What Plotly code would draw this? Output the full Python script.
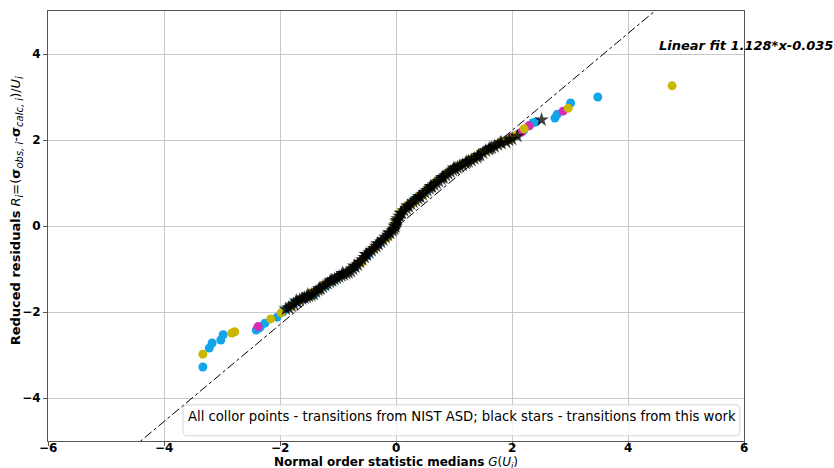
import plotly.graph_objects as go

# ---- data ----
blue_x = [-3.33, -3.22, -3.17, -3.02, -2.98, -2.41, -2.37, -2.34, -2.26, -2.05, -1.95, -1.88, -1.80, -1.72,
          -1.60, -1.55, -1.42, -1.38, -1.20, -1.05, -1.00, -0.90, -0.80, -0.70, -0.50, -0.45, -0.30, -0.25,
          -0.12, 0.05, 0.20, 0.30, 0.38, 0.55, 0.65, 0.72, 0.78, 0.90, 1.00, 1.10, 1.20, 1.30, 1.38, 1.48,
          1.55, 1.65, 1.72, 1.82, 1.90, 1.98, 2.05, 2.10, 2.20, 2.30, 2.36, 2.41, 2.74, 2.78, 3.01, 3.48]
blue_y = [-3.28, -2.84, -2.72, -2.65, -2.53, -2.42, -2.38, -2.35, -2.26, -2.12, -2.00, -1.93, -1.83, -1.78,
          -1.70, -1.66, -1.60, -1.55, -1.38, -1.24, -1.20, -1.12, -1.03, -0.95, -0.68, -0.60, -0.42, -0.35,
          -0.20, 0.22, 0.45, 0.60, 0.65, 0.86, 0.98, 1.05, 1.12, 1.24, 1.34, 1.40, 1.48, 1.54, 1.61, 1.70,
          1.76, 1.83, 1.88, 1.94, 2.00, 2.04, 2.08, 2.13, 2.22, 2.33, 2.40, 2.42, 2.51, 2.60, 2.86, 3.00]

yellow_x = [-3.33, -2.83, -2.78, -2.16, -1.98, -1.80, -1.65, -1.50, -1.45, -1.35, -1.25, -1.15, -0.98, -0.85,
            -0.75, -0.66, -0.60, -0.55, -0.40, -0.35, -0.22, -0.15, -0.06, -0.02, 0.02, 0.07, 0.10, 0.18,
            0.25, 0.32, 0.40, 0.45, 0.55, 0.62, 0.70, 0.80, 0.88, 0.95, 1.05, 1.12, 1.18, 1.28, 1.35, 1.45,
            1.52, 1.62, 1.70, 1.78, 1.88, 1.95, 2.05, 2.21, 2.97, 4.76]
yellow_y = [-2.98, -2.49, -2.46, -2.16, -2.02, -1.86, -1.72, -1.64, -1.55, -1.50, -1.38, -1.30, -1.18, -1.10,
            -0.98, -0.88, -0.85, -0.74, -0.55, -0.50, -0.32, -0.27, -0.10, 0.05, 0.15, 0.30, 0.30, 0.46,
            0.50, 0.58, 0.70, 0.72, 0.88, 0.92, 1.04, 1.12, 1.22, 1.30, 1.36, 1.42, 1.46, 1.55, 1.57, 1.68,
            1.73, 1.80, 1.86, 1.93, 1.98, 2.01, 2.10, 2.26, 2.74, 3.26]

magenta_x = [-2.38, -1.62, -0.82, 0.15, 1.42, 2.00, 2.16, 2.29, 2.88]
magenta_y = [-2.34, -1.70, -1.06, 0.42, 1.62, 2.06, 2.18, 2.33, 2.67]

cyan_x = [-1.12, -0.95, -0.18, 0.50, 0.85, 1.60]
cyan_y = [-1.28, -1.14, -0.27, 0.80, 1.20, 1.79]

star_x = [-1.90, -1.85, -1.80, -1.76, -1.72, -1.70, -1.66, -1.62, -1.58, -1.54, -1.52, -1.50, -1.46, -1.42,
          -1.38, -1.34, -1.32, -1.30, -1.26, -1.22, -1.18, -1.14, -1.12, -1.10, -1.06, -1.02, -0.98, -0.94,
          -0.92, -0.90, -0.86, -0.82, -0.78, -0.74, -0.72, -0.70, -0.66, -0.62, -0.58, -0.54, -0.52, -0.50,
          -0.46, -0.42, -0.38, -0.34, -0.32, -0.30, -0.26, -0.22, -0.18, -0.14, -0.12, -0.10, -0.06, -0.03,
          -0.02, -0.01, 0.00, 0.01, 0.02, 0.03, 0.06, 0.08, 0.10, 0.14, 0.18, 0.20, 0.22, 0.26, 0.30, 0.34,
          0.38, 0.40, 0.42, 0.46, 0.50, 0.54, 0.58, 0.60, 0.62, 0.66, 0.70, 0.74, 0.78, 0.80, 0.82, 0.86,
          0.90, 0.94, 0.98, 1.00, 1.02, 1.06, 1.10, 1.15, 1.20, 1.22, 1.25, 1.30, 1.35, 1.40, 1.42, 1.45,
          1.50, 1.55, 1.60, 1.62, 1.65, 1.70, 1.76, 1.80, 1.82, 1.90, 1.95, 2.00, 2.09, 2.51]
star_y = [-1.93, -1.90, -1.86, -1.82, -1.74, -1.77, -1.72, -1.69, -1.67, -1.65, -1.60, -1.63, -1.61, -1.58,
          -1.53, -1.49, -1.45, -1.46, -1.42, -1.38, -1.34, -1.30, -1.26, -1.27, -1.24, -1.21, -1.18, -1.15,
          -1.10, -1.13, -1.10, -1.08, -1.05, -1.00, -0.93, -0.95, -0.90, -0.84, -0.78, -0.73, -0.66, -0.67,
          -0.62, -0.57, -0.52, -0.47, -0.41, -0.42, -0.37, -0.32, -0.26, -0.21, -0.16, -0.16, -0.11, -0.07,
          0.00, -0.02, 0.04, 0.10, 0.13, 0.17, 0.23, 0.30, 0.30, 0.36, 0.41, 0.47, 0.46, 0.51, 0.56, 0.60,
          0.64, 0.69, 0.68, 0.73, 0.78, 0.83, 0.87, 0.92, 0.91, 0.96, 1.00, 1.04, 1.09, 1.13, 1.13, 1.18,
          1.22, 1.26, 1.30, 1.35, 1.33, 1.36, 1.39, 1.42, 1.46, 1.49, 1.50, 1.53, 1.57, 1.60, 1.64, 1.65,
          1.70, 1.75, 1.78, 1.81, 1.82, 1.85, 1.89, 1.94, 1.93, 1.95, 2.00, 2.02, 2.09, 2.47]

fit_slope = 1.128
fit_intercept = -0.035
fit_x = [-6, 6]
fit_y = [fit_slope * v + fit_intercept for v in fit_x]

x_ticks = [-6, -4, -2, 0, 2, 4, 6]
y_ticks = [-4, -2, 0, 2, 4]

FONT = "DejaVu Sans"
TICKFONT = dict(family=FONT, size=12, color="black", weight="bold")

def tick_text(v):
    return ("−" if v < 0 else "") + str(abs(v))

fig = go.Figure()

def dots(x, y, color):
    fig.add_trace(go.Scatter(x=x, y=y, mode="markers",
                             marker=dict(size=9, color=color, line=dict(width=0)),
                             showlegend=False, hoverinfo="skip"))

dots(blue_x, blue_y, "#12a5ea")
dots(magenta_x, magenta_y, "#d92ab8")
dots(cyan_x, cyan_y, "#10bcc4")
dots(yellow_x, yellow_y, "#c9b700")

fig.add_trace(go.Scatter(x=star_x, y=star_y, mode="markers",
                         marker=dict(symbol="star", size=11, color="rgba(0,0,0,0.75)", line=dict(width=0)),
                         showlegend=False, hoverinfo="skip"))

fig.add_trace(go.Scatter(x=fit_x, y=fit_y, mode="lines",
                         line=dict(color="black", width=1, dash="dashdot"),
                         showlegend=False, hoverinfo="skip"))

fig.add_annotation(x=4.5, y=4.19, xref="x", yref="y", xanchor="left", yanchor="middle",
                   text="<b><i>Linear fit %.3f*x%.3f</i></b>" % (fit_slope, fit_intercept),
                   showarrow=False, font=dict(family=FONT, size=13, color="black"))

# legend-like box
x0, x1, y0, y1, r = 0.194, 0.994, 0.012, 0.084, 0.006
ry = r * 696 / 430
path = (f"M {x0+r},{y0} L {x1-r},{y0} Q {x1},{y0} {x1},{y0+ry} L {x1},{y1-ry} Q {x1},{y1} {x1-r},{y1} "
        f"L {x0+r},{y1} Q {x0},{y1} {x0},{y1-ry} L {x0},{y0+ry} Q {x0},{y0} {x0+r},{y0} Z")
fig.add_shape(type="path", path=path, xref="paper", yref="paper",
              line=dict(color="#d6d6d6", width=1), fillcolor="rgba(255,255,255,0.8)", layer="above")
fig.add_annotation(x=0.198, y=0.058, xref="paper", yref="paper", xanchor="left", yanchor="middle",
                   text="All collor points - transitions from NIST ASD; black stars - transitions from this work",
                   showarrow=False, font=dict(family=FONT, size=13.2, color="black"))

# x tick labels placed just under the ticks
for v in x_ticks:
    fig.add_annotation(x=v, y=0, xref="x", yref="paper", xanchor="center", yanchor="top",
                       yshift=2, text=tick_text(v), showarrow=False, font=TICKFONT)

# axis titles as annotations
fig.add_annotation(x=0.5, y=-0.051, xref="paper", yref="paper", xanchor="center", yanchor="middle",
                   text="<b>Normal order statistic medians</b> <i>G</i>(<i>U<sub>i</sub></i>)",
                   showarrow=False, font=dict(family=FONT, size=12, color="black"))
SUB = '<sub><span style="font-size:10px"><i>%s</i></span></sub>'
fig.add_annotation(x=-0.044, y=0.535, xref="paper", yref="paper", xanchor="center", yanchor="middle",
                   textangle=-90,
                   text=("<b>Reduced residuals</b> <i>R</i>" + SUB % "i" + "=(<b>σ</b>" + SUB % "obs, i"
                         + "-<b>σ</b>" + SUB % "calc, i" + ")/<i>U</i>" + SUB % "i"),
                   showarrow=False, font=dict(family=FONT, size=13, color="black"))

axis_common = dict(showgrid=True, gridcolor="#c8c8c8", gridwidth=1, zeroline=False,
                   showline=True, linecolor="#555555", linewidth=1, mirror=True,
                   ticks="outside", ticklen=4, tickcolor="#555555", automargin=False,
                   tickfont=TICKFONT)

fig.update_xaxes(range=[-6, 6], tickvals=x_ticks, showticklabels=False, **axis_common)
fig.update_yaxes(range=[-5, 5], tickvals=y_ticks, ticktext=[tick_text(v) for v in y_ticks],
                 **axis_common)

fig.update_layout(width=834, height=468, margin=dict(l=48, r=90, t=11, b=27),
                  plot_bgcolor="white", paper_bgcolor="white",
                  font=dict(family=FONT, color="black"))

fig.write_html("out.html")
